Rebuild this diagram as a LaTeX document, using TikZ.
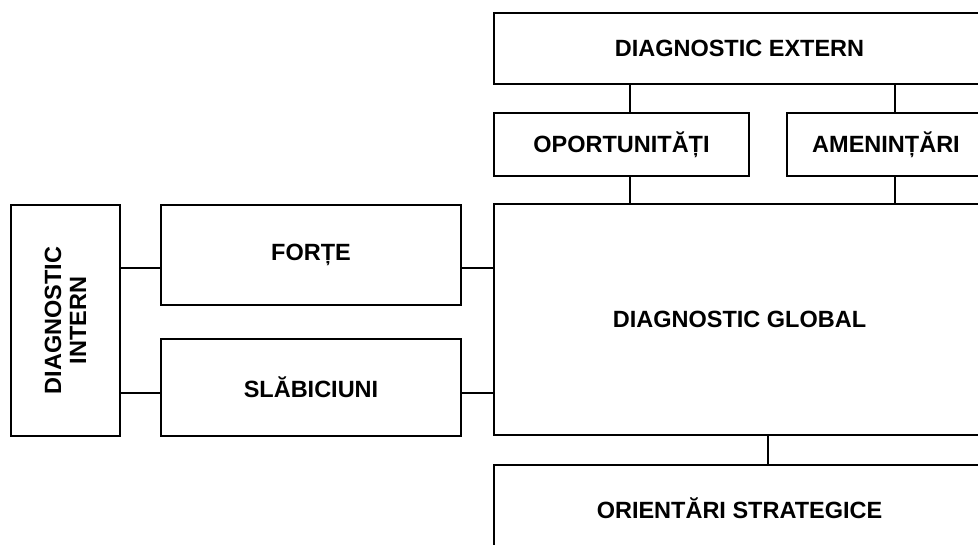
\documentclass[tikz,border=0pt]{standalone}
\usepackage{fontspec}
\setmainfont{Liberation Sans}
\begin{document}
\begin{tikzpicture}[x=1pt,y=-1pt,
  box/.style={draw,line width=2pt,rectangle,inner sep=0pt,align=center,
    font=\fontsize{23.5}{25}\selectfont\bfseries},
  link/.style={line width=2pt}]
\useasboundingbox (0,0) rectangle (978,544);
\clip (0,0) rectangle (978,544);
% external diagnosis branch
\node[box,minimum width=491pt,minimum height=71pt] (ext) at (739.5,48.5) {DIAGNOSTIC EXTERN};
\node[box,minimum width=255pt,minimum height=63pt] (opp) at (621.5,144.5) {OPORTUNITĂȚI};
\node[box,minimum width=198pt,minimum height=63pt] (ame) at (886,144.5) {AMENINȚĂRI};
% central synthesis and outcome
\node[box,minimum width=491pt,minimum height=231pt] (glob) at (739.5,319.5) {DIAGNOSTIC GLOBAL};
\node[box,minimum width=491pt,minimum height=86pt] (ori) at (739.5,508) {ORIENTĂRI STRATEGICE};
% internal diagnosis branch
\node[box,minimum width=231pt,minimum height=109pt,rotate=90] (int) at (65.5,320.5) {DIAGNOSTIC\\INTERN};
\node[box,minimum width=300pt,minimum height=100pt] (forte) at (311,255) {FORȚE};
\node[box,minimum width=300pt,minimum height=97pt] (slab) at (311,387.5) {SLĂBICIUNI};
% connector levels
\coordinate (hf) at (0,268);
\coordinate (hs) at (0,393);
\coordinate (vo) at (630,0);
\coordinate (va) at (895,0);
\coordinate (vg) at (768,0);
% connectors
\draw[link] (int.south |- hf) -- (forte.west |- hf);
\draw[link] (int.south |- hs) -- (slab.west |- hs);
\draw[link] (forte.east |- hf) -- (glob.west |- hf);
\draw[link] (slab.east |- hs) -- (glob.west |- hs);
\draw[link] (vo |- ext.south) -- (vo |- opp.north);
\draw[link] (va |- ext.south) -- (va |- ame.north);
\draw[link] (vo |- opp.south) -- (vo |- glob.north);
\draw[link] (va |- ame.south) -- (va |- glob.north);
\draw[link] (vg |- glob.south) -- (vg |- ori.north);
\end{tikzpicture}
\end{document}
